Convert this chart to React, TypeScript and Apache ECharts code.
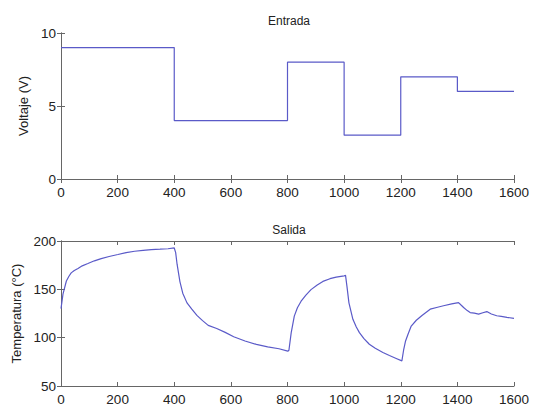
import React, { useEffect, useRef } from "react";
import * as echarts from "echarts";

const stepTimes = [0, 400, 800, 1000, 1200, 1400, 1600];
const stepVolts = [9, 4, 8, 3, 7, 6, 6];

const tempTimes = [
  0, 7, 19, 28, 36, 47, 60, 75, 95, 118, 142, 170, 201, 230, 260, 290, 319, 350, 378, 400,
  405, 410, 420, 430, 445, 462, 480, 500, 520, 550, 580, 610, 650, 690, 730, 770, 801,
  805, 813, 824, 835, 848, 865, 883, 905, 925, 950, 972, 1000,
  1005, 1010, 1017, 1031, 1043, 1054, 1070, 1089, 1110, 1137, 1160, 1184, 1204,
  1210, 1217, 1225, 1237, 1255, 1275, 1304, 1330, 1351, 1380, 1404, 1412, 1422, 1435, 1445, 1460, 1475, 1490,
  1504, 1520, 1539, 1555, 1575, 1600,
];
const tempValues = [
  130, 145, 158.6, 163.5, 167, 169.5, 171.6, 174.3, 176.7, 179.5, 181.8, 184, 186, 188, 189.4, 190.3, 191, 191.5, 192, 192.8,
  188, 176, 158, 146, 136, 129.5, 123, 117.6, 112.7, 109.5, 105.5, 101, 96.5, 93, 90.5, 88.5, 86,
  87, 105, 122.3, 131, 137.7, 144, 149.7, 154.5, 158.2, 161, 162.7, 164,
  164.4, 153, 136, 119, 111, 105.2, 99, 93.2, 89, 84.7, 81.5, 78.5, 76,
  87, 96.6, 103, 112, 118, 123, 129.5, 131.5, 133, 135, 136.3, 134, 131.2, 128, 126, 125.3, 124.4, 125.8,
  127, 124.5, 122.7, 122, 121, 120,
];

const xTicks = [0, 1600, 200];
const voltRange = [0, 10, 5];
const tempRange = [50, 200, 50];

const FONT = "Liberation Sans, Arial, sans-serif";
const AXIS = "#666";
const LINE = "#5a5ac8";

export default function App() {
  const ref = useRef<HTMLDivElement>(null);
  useEffect(() => {
    if (!ref.current) return;
    const chart = echarts.init(ref.current, undefined, { renderer: "svg" });
    const axisCommon = {
      axisLine: { show: true, lineStyle: { color: AXIS, width: 1 } },
      axisTick: { show: true, inside: true, length: 4, lineStyle: { color: AXIS } },
      splitLine: { show: false },
    };
    const label = { color: "#222", fontSize: 13.5, fontFamily: FONT, formatter: (v: number) => String(v) };
    const mkX = (grid: number, main: boolean) => ({
      type: "value",
      gridIndex: grid,
      position: main ? "bottom" : "top",
      min: xTicks[0],
      max: xTicks[1],
      interval: xTicks[2],
      ...axisCommon,
      axisLabel: main ? { ...label, margin: 6 } : { show: false },
    });
    const mkY = (grid: number, main: boolean, r: number[], name: string, gap: number) => ({
      type: "value",
      gridIndex: grid,
      position: main ? "left" : "right",
      min: r[0],
      max: r[1],
      interval: r[2],
      ...axisCommon,
      name: main ? name : "",
      nameLocation: "middle",
      nameGap: gap,
      nameTextStyle: { color: "#222", fontSize: 13, fontFamily: FONT },
      axisLabel: main ? { ...label, margin: 5 } : { show: false },
    });
    chart.setOption({
      animation: false,
      backgroundColor: "#fff",
      title: [
        { text: "Entrada", left: 284, top: 10, textAlign: "center", textStyle: { fontSize: 12, fontWeight: "normal", color: "#222", fontFamily: FONT } },
        { text: "Salida", left: 284, top: 219, textAlign: "center", textStyle: { fontSize: 12, fontWeight: "normal", color: "#222", fontFamily: FONT } },
      ],
      grid: [
        { left: 61, right: 19, top: 33, height: 146 },
        { left: 61, right: 19, top: 241, height: 146 },
      ],
      xAxis: [mkX(0, true), mkX(0, false), mkX(1, true), mkX(1, false)],
      yAxis: [
        mkY(0, true, voltRange, "Voltaje (V)", 19),
        mkY(0, false, voltRange, "", 0),
        mkY(1, true, tempRange, "Temperatura (°C)", 30),
        mkY(1, false, tempRange, "", 0),
      ],
      series: [
        {
          type: "line",
          xAxisIndex: 0,
          yAxisIndex: 0,
          step: "end",
          showSymbol: false,
          lineStyle: { color: LINE, width: 1.2 },
          data: stepTimes.map((t, i) => [t, stepVolts[i]]),
        },
        {
          type: "line",
          xAxisIndex: 2,
          yAxisIndex: 2,
          showSymbol: false,
          lineStyle: { color: LINE, width: 1.2 },
          data: tempTimes.map((t, i) => [t, tempValues[i]]),
        },
      ],
    });
    return () => chart.dispose();
  }, []);
  return <div ref={ref} style={{ width: 533, height: 406, position: "absolute", left: 0, top: 0 }} />;
}
